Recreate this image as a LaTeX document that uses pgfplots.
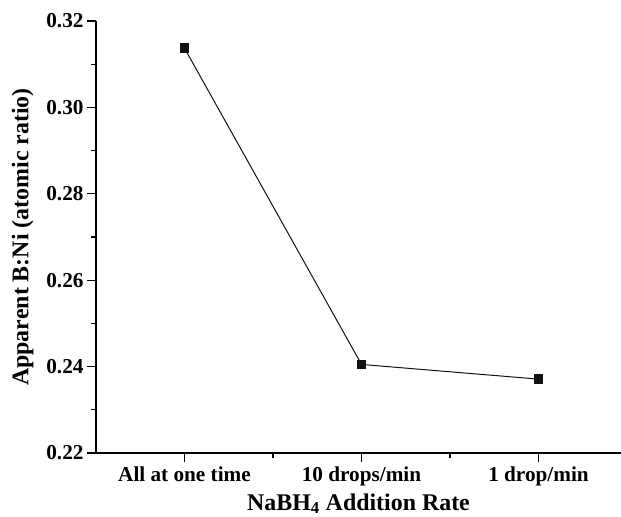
\documentclass[border=0pt]{standalone}
\usepackage{fontspec}
\setmainfont{Liberation Serif}
\usepackage{pgfplots}
\pgfplotsset{compat=1.18}
\definecolor{mk}{HTML}{111111}
\begin{document}
\begin{tikzpicture}
\path[use as bounding box] (-96bp,-64bp) rectangle (525bp,453bp);
\begin{axis}[
  at={(0,0)}, anchor=south west,
  scale only axis, width=525bp, height=432bp,
  xmin=0.5, xmax=3.466, ymin=0.22, ymax=0.32,
  axis x line=bottom, axis y line=left,
  axis line style={-, line width=1.3pt},
  tick align=outside,
  major tick length=9bp, minor tick length=5bp,
  every tick/.style={line width=1.2pt, black},
  xtick={1,2,3}, xticklabels={All at one time,10 drops/min,1 drop/min},
  minor xtick={1.5,2.5},
  ytick={0.22,0.24,0.26,0.28,0.30,0.32},
  minor ytick={0.23,0.25,0.27,0.29,0.31},
  /pgf/number format/assume math mode=true,
  yticklabel style={/pgf/number format/.cd, fixed, fixed zerofill, precision=2},
  tick label style={font=\fontsize{21.3}{25}\selectfont\bfseries},
  xticklabel style={yshift=-1bp},
  xlabel={NaBH\textsubscript{4} Addition Rate},
  ylabel={Apparent B:Ni (atomic ratio)},
  label style={font=\fontsize{24}{29}\selectfont\bfseries},
  xlabel style={yshift=-1bp},
  ylabel style={yshift=6bp},
  clip=false,
]
\addplot[color=mk, line width=1pt, mark=square*, mark size=4.3bp, mark options={fill=mk, draw=mk}]
  coordinates {(1,0.3137) (2,0.2405) (3,0.2371)};
\end{axis}
\end{tikzpicture}
\end{document}
